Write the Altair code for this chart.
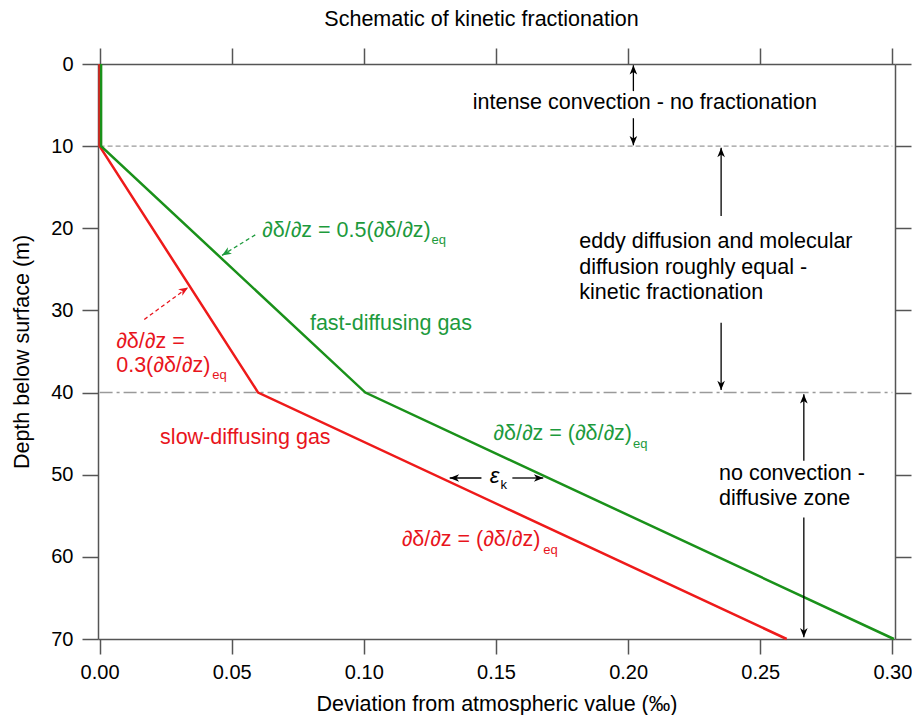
import altair as alt
import pandas as pd

FONT = "Liberation Sans"
RED = "#ee1a1a"
GREEN = "#1a911a"
RED_TXT = "#e8141c"
GREEN_TXT = "#1d9a3c"
GREY = "#555555"

# ---- data ----
depth = [0, 10, 40, 70]
slow_gas = [0.0, 0.0, 0.06, 0.26]
fast_gas = [0.0, 0.0, 0.10, 0.30]
x_ticks = [0.0, 0.05, 0.10, 0.15, 0.20, 0.25, 0.30]
y_ticks = [0, 10, 20, 30, 40, 50, 60, 70]

zone_depth = [10, 40]
zone_x_start = [0.0, 0.0]
zone_x_end = [0.30, 0.30]

# arrows (tail -> head) in data coordinates
arr_x1 = [0.202, 0.202, 0.2352, 0.2352, 0.2665, 0.2665, 0.1445, 0.1562, 0.0589, 0.0169]
arr_y1 = [3.3, 6.6, 18.5, 31.5, 48.3, 55.2, 50.4, 50.4, 20.8, 31.1]
arr_x2 = [0.202, 0.202, 0.2352, 0.2352, 0.2665, 0.2665, 0.1325, 0.1679, 0.0463, 0.0335]
arr_y2 = [0.15, 9.9, 10.2, 39.7, 40.2, 69.8, 50.4, 50.4, 23.3, 27.2]
arr_angle = [0, 180, 0, 180, 0, 180, 270, 90, 238, 57]
arr_color = ["black"] * 8 + [GREEN_TXT, RED_TXT]
arr_dashed = [False] * 8 + [True, True]

# annotation texts
txt = ["intense convection - no fractionation",
       "eddy diffusion and molecular", "diffusion roughly equal -", "kinetic fractionation",
       "no convection -", "diffusive zone",
       "∂δ/∂z = 0.5(∂δ/∂z)", "eq", "fast-diffusing gas",
       "∂δ/∂z = (∂δ/∂z)", "eq",
       "∂δ/∂z =", "0.3(∂δ/∂z)", "eq", "slow-diffusing gas",
       "∂δ/∂z = (∂δ/∂z)", "eq", "k"]
txt_x = [0.1412, 0.1815, 0.1815, 0.1815, 0.2344, 0.2344,
         0.0615, 0.1256, 0.0796, 0.149, 0.2019,
         0.0063, 0.0063, 0.0426, 0.0229, 0.1143, 0.1679, 0.1517]
txt_y = [4.75, 21.7, 24.8, 27.9, 49.9, 53.0,
         20.3, 21.4, 31.7, 45.0, 46.2,
         33.8, 36.8, 37.8, 45.5, 58.0, 59.2, 51.3]
txt_col = ["black"] * 6 + [GREEN_TXT] * 5 + [RED_TXT] * 6 + ["black"]
txt_size = [21.5] * 6 + [21.5, 13, 21.5, 21.5, 13, 21.5, 21.5, 13, 21.5, 21.5, 13, 13]

eps_x = [0.1476]
eps_y = [50.1]

# ---- tables ----
slow_df = pd.DataFrame({"x": slow_gas, "y": depth, "i": range(len(depth))})
fast_df = pd.DataFrame({"x": fast_gas, "y": depth, "i": range(len(depth))})
zone_df = pd.DataFrame({"x": zone_x_start, "x2": zone_x_end, "y": zone_depth})
arr_df = pd.DataFrame({"x": arr_x1, "y": arr_y1, "x2": arr_x2, "y2": arr_y2,
                       "ang": arr_angle, "col": arr_color, "dashed": arr_dashed})
txt_df = pd.DataFrame({"t": txt, "x": txt_x, "y": txt_y, "col": txt_col, "fs": txt_size})
eps_df = pd.DataFrame({"t": ["ε"], "x": eps_x, "y": eps_y})

W, H = 797, 575
xscale = alt.Scale(domain=[-0.0006, 0.301], nice=False, zero=False)
yscale = alt.Scale(domain=[0, 70], reverse=True, nice=False, zero=False)


def X(field="x", axis=None):
    return alt.X(f"{field}:Q", scale=xscale, axis=axis)


def Y(field="y", axis=None):
    return alt.Y(f"{field}:Q", scale=yscale, axis=axis)


bottom_axis = alt.Axis(orient="bottom", values=x_ticks, format=".2f",
                       title="Deviation from atmospheric value (‰)",
                       tickSize=15, labelPadding=8, titleY=71, titleBaseline="alphabetic")
left_axis = alt.Axis(orient="left", values=y_ticks, format="d",
                     title="Depth below surface (m)", tickSize=16, labelPadding=9,
                     titleX=-76, titleY=H / 2, titleBaseline="middle", titleAngle=270)
top_axis = alt.Axis(orient="top", values=x_ticks, labels=False, title="", tickSize=16)
right_axis = alt.Axis(orient="right", values=y_ticks, labels=False, title="", tickSize=16)

zones10 = alt.Chart(zone_df[zone_df.y == 10]).mark_rule(
    color="#9a9a9a", strokeWidth=1.2, strokeDash=[5, 3]
).encode(x=X(), x2="x2:Q", y=Y())
zones40 = alt.Chart(zone_df[zone_df.y == 40]).mark_rule(
    color="#9a9a9a", strokeWidth=1.5, strokeDash=[13, 4, 3, 4]
).encode(x=X(), x2="x2:Q", y=Y())

red_line = alt.Chart(slow_df).mark_line(color=RED, strokeWidth=2.5).encode(
    x=X(axis=bottom_axis), y=Y(axis=left_axis), order=alt.Order("i:Q"))
green_line = alt.Chart(fast_df).mark_line(color=GREEN, strokeWidth=2.5, xOffset=1.5).encode(
    x=X(axis=top_axis), y=Y(axis=right_axis), order=alt.Order("i:Q"))

solid_arrows = alt.Chart(arr_df[~arr_df.dashed]).mark_rule(strokeWidth=1.3).encode(
    x=X(), y=Y(), x2="x2:Q", y2="y2:Q", color=alt.Color("col:N", scale=None))
dashed_arrows = alt.Chart(arr_df[arr_df.dashed]).mark_rule(strokeWidth=1.3, strokeDash=[4, 3]).encode(
    x=X(), y=Y(), x2="x2:Q", y2="y2:Q", color=alt.Color("col:N", scale=None))

HEAD = "M0,0 L0.85,2.1 L0,1.5 L-0.85,2.1 Z"
heads = alt.Chart(arr_df).mark_point(shape=HEAD, filled=True, size=80, opacity=1).encode(
    x=X("x2"), y=Y("y2"), angle=alt.Angle("ang:Q", scale=None),
    color=alt.Color("col:N", scale=None))

texts = alt.Chart(txt_df).mark_text(align="left", baseline="middle", font=FONT).encode(
    x=X(), y=Y(), text="t:N", color=alt.Color("col:N", scale=None),
    size=alt.Size("fs:Q", scale=None))

eps = alt.Chart(eps_df).mark_text(align="left", baseline="middle", font=FONT,
                                  fontSize=22, fontStyle="italic", color="black").encode(
    x=X(), y=Y(), text="t:N")

chart = alt.layer(
    zones10, zones40, red_line, green_line, solid_arrows, dashed_arrows, heads, texts, eps
).resolve_axis(x="independent", y="independent").properties(
    width=W, height=H,
    autosize=alt.AutoSizeParams(type="none"),
    padding={"left": 90, "top": 56, "right": 17, "bottom": 76},
    title=alt.TitleParams("Schematic of kinetic fractionation", font=FONT, fontSize=21.5,
                          fontWeight="normal", color="black", anchor="middle",
                          frame="group", dx=-15, offset=17),
).configure_axis(
    domainColor=GREY, domainWidth=1.5, tickColor=GREY, tickWidth=1.5,
    labelFont=FONT, titleFont=FONT, labelFontSize=20, titleFontSize=21.5,
    labelColor="black", titleColor="black", titleFontWeight="normal", grid=False,
).configure_view(strokeWidth=0)

chart.save("out.html", embed_options={"renderer": "svg", "actions": False})
